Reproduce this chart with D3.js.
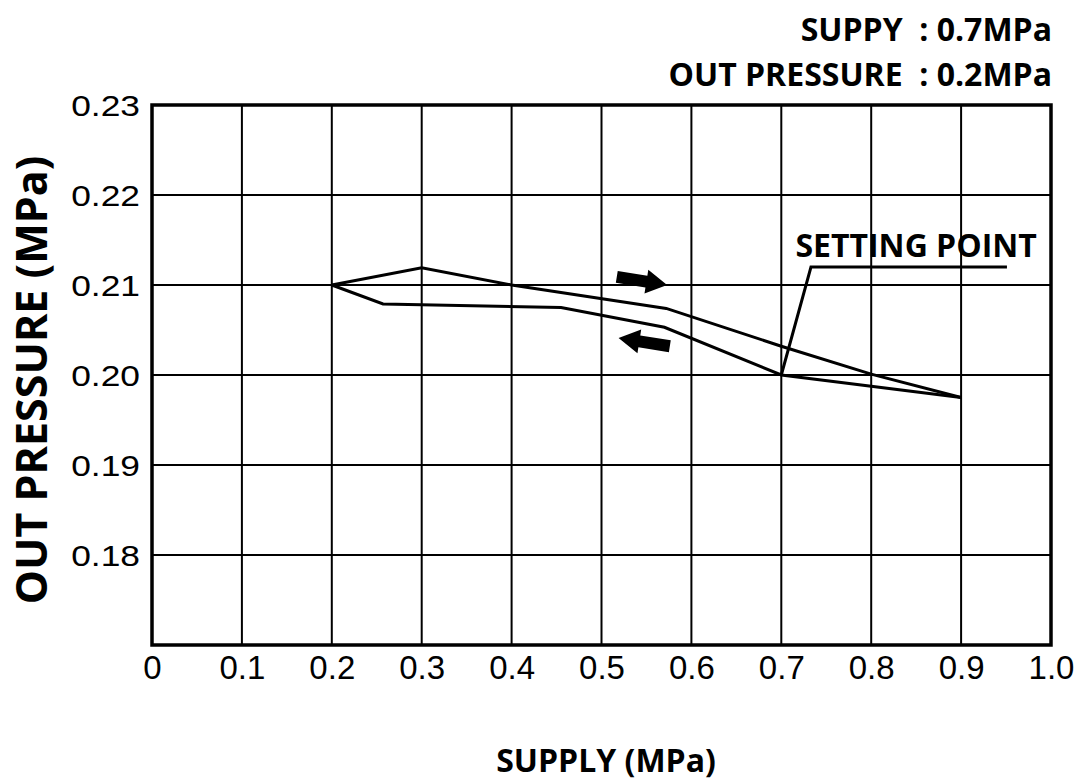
<!DOCTYPE html>
<html>
<head>
<meta charset="utf-8">
<script src="https://cdn.jsdelivr.net/npm/d3@7"></script>
<style>
  html, body { margin: 0; padding: 0; background: #fff; }
  svg { display: block; }
</style>
</head>
<body>
<svg id="chart" width="1075" height="782"></svg>
<script>
// ---- Data ----
const xTicks = [0, 0.1, 0.2, 0.3, 0.4, 0.5, 0.6, 0.7, 0.8, 0.9, 1.0];
const xTickLabels = ["0", "0.1", "0.2", "0.3", "0.4", "0.5", "0.6", "0.7", "0.8", "0.9", "1.0"];
const yTicks = [0.17, 0.18, 0.19, 0.20, 0.21, 0.22, 0.23];
const yTickLabels = ["", "0.18", "0.19", "0.20", "0.21", "0.22", "0.23"];

// rising supply (upper branch)
const risingSupply   = [0.2,   0.3,    0.4,   0.572,  0.7,    0.8,    0.9];
const risingOut      = [0.210, 0.2119, 0.2100, 0.2074, 0.2032, 0.2001, 0.1975];
// falling supply (lower branch)
const fallingSupply  = [0.9,    0.7,   0.57,   0.455,  0.257,  0.2];
const fallingOut     = [0.1975, 0.200, 0.2053, 0.2075, 0.2079, 0.210];

// annotations (data coordinates)
const arrowRight = { tail: [0.517, 0.2109], tip: [0.573, 0.2100] };
const arrowLeft  = { tail: [0.576, 0.2032], tip: [0.519, 0.2041] };
const leaderSupply = [0.7, 0.733, 0.951];
const leaderOut    = [0.200, 0.2120, 0.2120];

const xTitle = "SUPPLY (MPa)";
const yTitle = "OUT PRESSURE (MPa)";
const noteLines = ["SUPPY  : 0.7MPa", "OUT PRESSURE  : 0.2MPa"];
const settingLabel = "SETTING POINT";

// ---- Layout ----
const svg = d3.select("#chart");
const pLeft = 152, pRight = 1051, pTop = 105, pBottom = 645;

const x = d3.scaleLinear().domain([0, 1.0]).range([pLeft, pRight]);
const y = d3.scaleLinear().domain([0.17, 0.23]).range([pBottom, pTop]);

const boldFont = "'Open Sans', 'Noto Sans', sans-serif";
const tickFont = "'Liberation Sans', Arial, Helvetica, sans-serif";

// grid
const grid = svg.append("g");
grid.selectAll("line.vx").data(xTicks).enter().append("line")
  .attr("x1", d => x(d)).attr("x2", d => x(d))
  .attr("y1", pTop).attr("y2", pBottom)
  .attr("stroke", "#000").attr("stroke-width", 2);
grid.selectAll("line.hy").data(yTicks).enter().append("line")
  .attr("y1", d => y(d)).attr("y2", d => y(d))
  .attr("x1", pLeft).attr("x2", pRight)
  .attr("stroke", "#000").attr("stroke-width", 2);

// frame
svg.append("rect")
  .attr("x", pLeft).attr("y", pTop)
  .attr("width", pRight - pLeft).attr("height", pBottom - pTop)
  .attr("fill", "none").attr("stroke", "#000").attr("stroke-width", 3.5);

// x axis (labels only)
const xAxis = d3.axisBottom(x).tickValues(xTicks)
  .tickFormat((d, i) => xTickLabels[i]).tickSize(0).tickPadding(0);
const gx = svg.append("g").attr("transform", `translate(0,${pBottom})`).call(xAxis);
gx.select(".domain").remove();
gx.selectAll("text")
  .attr("y", 34).attr("dy", 0)
  .attr("font-family", tickFont).attr("font-size", 33).attr("fill", "#000");

// y axis (labels only)
const yAxis = d3.axisLeft(y).tickValues(yTicks)
  .tickFormat((d, i) => yTickLabels[i]).tickSize(0).tickPadding(0);
const gy = svg.append("g").attr("transform", `translate(${pLeft},0)`).call(yAxis);
gy.select(".domain").remove();
gy.selectAll("text")
  .attr("x", 0).attr("dy", 0).attr("y", 10.5)
  .attr("transform", "translate(-12,0) scale(1.22,1)")
  .attr("font-family", tickFont).attr("font-size", 29).attr("fill", "#000");

// curves
const line = d3.line().x(d => x(d[0])).y(d => y(d[1]));
svg.append("path")
  .datum(d3.zip(risingSupply, risingOut))
  .attr("d", line).attr("fill", "none")
  .attr("stroke", "#000").attr("stroke-width", 3).attr("stroke-linejoin", "miter");
svg.append("path")
  .datum(d3.zip(fallingSupply, fallingOut))
  .attr("d", line).attr("fill", "none")
  .attr("stroke", "#000").attr("stroke-width", 3).attr("stroke-linejoin", "miter");

// leader line
svg.append("path")
  .datum(d3.zip(leaderSupply, leaderOut))
  .attr("d", line).attr("fill", "none")
  .attr("stroke", "#000").attr("stroke-width", 3);

// arrows
function arrowPath(a) {
  const tx = x(a.tail[0]), ty = y(a.tail[1]);
  const px = x(a.tip[0]), py = y(a.tip[1]);
  const dx = px - tx, dy = py - ty, L = Math.hypot(dx, dy);
  const ux = dx / L, uy = dy / L, nx = -uy, ny = ux;
  const shaftW = 6, headW = 12, headL = 21;
  const bx = px - ux * headL, by = py - uy * headL;
  const pts = [
    [tx + nx * shaftW, ty + ny * shaftW],
    [bx + nx * shaftW, by + ny * shaftW],
    [bx + nx * headW, by + ny * headW],
    [px, py],
    [bx - nx * headW, by - ny * headW],
    [bx - nx * shaftW, by - ny * shaftW],
    [tx - nx * shaftW, ty - ny * shaftW]
  ];
  return "M" + pts.map(p => p.join(",")).join("L") + "Z";
}
[arrowRight, arrowLeft].forEach(a => {
  svg.append("path").attr("d", arrowPath(a)).attr("fill", "#000");
});

// setting point label
svg.append("text")
  .attr("x", x(0.7157)).attr("y", 257)
  .attr("font-family", boldFont).attr("font-weight", 700)
  .attr("font-size", 32).attr("fill", "#000")
  .text(settingLabel);

// top-right notes
noteLines.forEach((t, i) => {
  svg.append("text")
    .attr("x", 1052).attr("y", 41 + i * 45)
    .attr("text-anchor", "end")
    .attr("font-family", boldFont).attr("font-weight", 700)
    .attr("font-size", 32).attr("fill", "#000")
    .style("white-space", "pre")
    .text(t);
});

// axis titles
svg.append("text")
  .attr("x", 606).attr("y", 772)
  .attr("text-anchor", "middle")
  .attr("font-family", boldFont).attr("font-weight", 700)
  .attr("font-size", 32).attr("fill", "#000")
  .text(xTitle);

svg.append("text")
  .attr("transform", "translate(47,380) rotate(-90)")
  .attr("text-anchor", "middle")
  .attr("font-family", boldFont).attr("font-weight", 700)
  .attr("font-size", 43).attr("fill", "#000")
  .text(yTitle);
</script>
</body>
</html>
